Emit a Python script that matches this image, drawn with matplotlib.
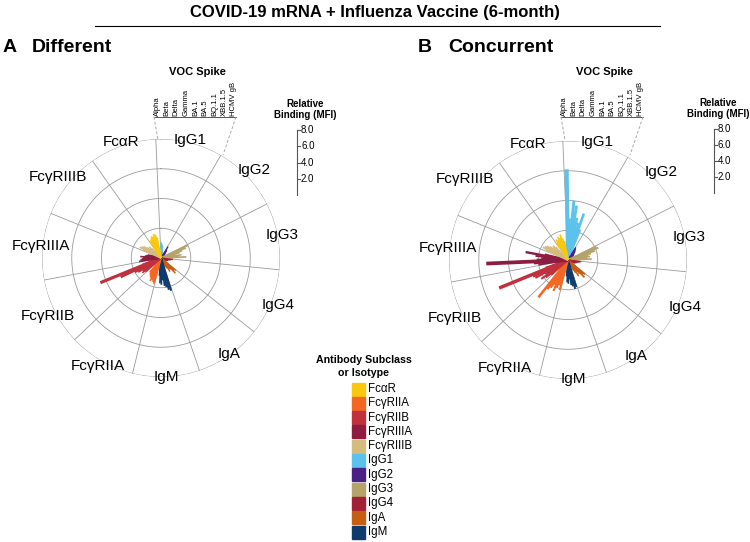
import numpy as np
import matplotlib
matplotlib.use("Agg")
import matplotlib.pyplot as plt
from matplotlib.lines import Line2D
from matplotlib.patches import Rectangle

plt.rcParams['font.family'] = ['Liberation Sans', 'DejaVu Sans']

# ---------------------------
# Data
# ---------------------------
antigens = ["Alpha", "Beta", "Delta", "Gamma", "BA.1", "BA.5", "BQ.1.1", "XBB.1.5", "HCMV gB"]

# clockwise order around the circle, starting at the top
features = ["IgG1", "IgG2", "IgG3", "IgG4", "IgA", "IgM",
            "FcγRIIA", "FcγRIIB", "FcγRIIIA", "FcγRIIIB", "FcαR"]

colors = {
    "FcαR": "#F9C80E",
    "FcγRIIA": "#F26722",
    "FcγRIIB": "#C0303D",
    "FcγRIIIA": "#8C1D40",
    "FcγRIIIB": "#D4BC7E",
    "IgG1": "#5BC2EC",
    "IgG2": "#4B2084",
    "IgG3": "#B5A36A",
    "IgG4": "#A31F36",
    "IgA": "#C65D12",
    "IgM": "#0E3B6B",
}
legend_order = ["FcαR", "FcγRIIA", "FcγRIIB", "FcγRIIIA", "FcγRIIIB",
                "IgG1", "IgG2", "IgG3", "IgG4", "IgA", "IgM"]

# relative binding (MFI), one list of 9 antigens per feature
different = {
    "IgG1":     [1.1, 1.0, 0.9, 0.8, 0.5, 0.4, 0.3, 0.3, 0.2],
    "IgG2":     [0.9, 0.7, 0.6, 0.5, 0.4, 0.3, 0.3, 0.3, 0.2],
    "IgG3":     [2.0, 1.8, 1.5, 1.3, 1.0, 1.4, 1.2, 1.7, 0.8],
    "IgG4":     [0.8, 0.7, 0.6, 0.5, 0.5, 0.4, 0.4, 0.4, 0.3],
    "IgA":      [1.3, 1.2, 1.4, 1.0, 0.9, 1.1, 0.8, 0.7, 0.5],
    "IgM":      [2.3, 2.2, 2.0, 1.9, 1.5, 1.8, 1.7, 1.2, 0.6],
    "FcγRIIA":  [1.8, 1.7, 1.6, 1.7, 1.5, 1.4, 1.3, 1.2, 0.6],
    "FcγRIIB":  [1.4, 1.6, 1.5, 1.8, 2.0, 3.0, 4.4, 1.3, 0.8],
    "FcγRIIIA": [1.5, 1.4, 1.3, 1.2, 1.4, 1.1, 1.0, 0.9, 0.6],
    "FcγRIIIB": [1.3, 1.6, 1.5, 1.4, 1.2, 1.0, 1.1, 0.9, 0.6],
    "FcαR":     [1.3, 1.4, 1.5, 1.6, 1.5, 1.7, 1.6, 1.4, 0.7],
}
concurrent = {
    "IgG1":     [6.1, 2.8, 4.0, 3.7, 2.9, 2.6, 3.3, 2.2, 0.4],
    "IgG2":     [1.0, 0.9, 0.8, 0.7, 0.6, 0.5, 0.5, 0.4, 0.3],
    "IgG3":     [2.1, 2.2, 1.9, 1.6, 1.4, 1.5, 1.3, 1.6, 0.7],
    "IgG4":     [0.9, 0.8, 0.7, 0.6, 0.6, 0.5, 0.5, 0.4, 0.3],
    "IgA":      [1.5, 1.4, 1.6, 1.2, 1.0, 1.3, 1.0, 0.8, 0.5],
    "IgM":      [1.9, 2.0, 1.8, 1.7, 1.3, 1.6, 1.5, 1.1, 0.5],
    "FcγRIIA":  [2.1, 1.8, 2.0, 2.3, 1.9, 2.2, 2.4, 3.2, 0.6],
    "FcγRIIB":  [1.5, 1.9, 2.2, 1.8, 2.5, 2.6, 5.0, 1.6, 0.8],
    "FcγRIIIA": [2.0, 2.3, 5.5, 2.1, 1.8, 2.2, 2.9, 1.6, 0.7],
    "FcγRIIIB": [1.6, 1.9, 1.8, 1.7, 1.5, 1.3, 1.4, 1.2, 0.6],
    "FcαR":     [1.4, 1.6, 1.5, 1.7, 1.6, 1.8, 1.5, 1.3, 0.6],
}

rings = [2, 4, 6, 8]
label_r = [8.2, 8.6, 8.27, 8.47, 7.93, 8.0, 8.4, 8.53, 8.13, 8.8, 8.27]

# ---------------------------
# Figure helpers (pixel coords of a 750x542 canvas)
# ---------------------------
W, H = 750, 542
fig = plt.figure(figsize=(7.5, 5.42), dpi=100)


def fx(x):
    return x / W


def fy(y):
    return 1 - y / H


def fline(xs, ys, **kw):
    fig.add_artist(Line2D([fx(x) for x in xs], [fy(y) for y in ys],
                          transform=fig.transFigure, **kw))


n_feat = len(features)
sector = 2 * np.pi / n_feat
slot = sector / 10
offset = np.deg2rad(-2.5)
grid_col = "#9a9a9a"


def radial_plot(cx, cy, data):
    R = 119
    ax = fig.add_axes([fx(cx - R), fy(cy + R), 2 * R / W, 2 * R / H], projection="polar")
    ax.set_theta_zero_location("N")
    ax.set_theta_direction(-1)
    ax.set_ylim(0, 8)
    ax.set_xticks([])
    ax.set_yticks([])
    ax.grid(False)
    ax.spines["polar"].set_visible(False)
    ax.patch.set_alpha(0)

    th = np.linspace(0, 2 * np.pi, 400)
    for r in rings:
        ax.plot(th, np.full_like(th, r), color=grid_col, lw=0.6, zorder=1)
    for i in range(n_feat):
        a = offset + i * sector
        ax.plot([a, a], [0, 8], color=grid_col, lw=0.6, zorder=1)

    # bars drawn as radial strokes
    for i, f in enumerate(features):
        start = offset + i * sector
        for j, v in enumerate(data[f]):
            t = start + (j + 0.5) * slot
            ax.plot([t, t], [0, v], color=colors[f], lw=0.6 + 0.38 * v,
                    solid_capstyle="butt", zorder=3)
        mid = start + sector / 2
        ax.text(mid, label_r[i], f, ha="center", va="center", fontsize=11,
                clip_on=False, zorder=4)
    return ax


def voc_labels(x0):
    # antigen labels above the IgG1 sector
    xs = x0 + np.arange(len(antigens)) * 9.6
    for x, name in zip(xs, antigens):
        fig.text(fx(x), fy(116), name, rotation=90, ha="center", va="bottom", fontsize=5.5)
    fig.text(fx(x0 + 40), fy(72), "VOC Spike", ha="center", va="center",
             fontsize=8, fontweight="bold")
    fline([x0 - 3, x0 + 79], [117, 117], color="#555555", lw=0.7)
    fline([x0 - 3, x0 + 1], [117, 140], color="#aaaaaa", lw=0.7, ls=(0, (3, 2)))
    fline([x0 + 79, x0 + 66], [117, 155], color="#aaaaaa", lw=0.7, ls=(0, (3, 2)))


def scale_bar(x, ytop, step, xtext):
    fig.text(fx(xtext), fy(ytop - 26), "Relative", ha="center", va="center",
             fontsize=7, fontweight="bold")
    fig.text(fx(xtext), fy(ytop - 15), "Binding (MFI)", ha="center", va="center",
             fontsize=7, fontweight="bold")
    fline([x, x], [ytop, ytop + 4 * step], color="#555555", lw=0.8)
    for k, v in enumerate([8.0, 6.0, 4.0, 2.0]):
        y = ytop + k * step
        fline([x, x + 3], [y, y], color="#555555", lw=0.8)
        fig.text(fx(x + 4), fy(y), f"{v:.1f}", ha="left", va="center", fontsize=7)


# ---------------------------
# Title and panels
# ---------------------------
fig.text(0.5, fy(12), "COVID-19 mRNA + Influenza Vaccine (6-month)", ha="center",
         va="center", fontsize=12, fontweight="bold")
fline([95, 660], [26, 26], color="black", lw=0.8)

fig.text(fx(3), fy(47), "A", ha="left", va="center", fontsize=14, fontweight="bold")
fig.text(fx(32), fy(47), "Different", ha="left", va="center", fontsize=14, fontweight="bold")
fig.text(fx(418), fy(48), "B", ha="left", va="center", fontsize=14, fontweight="bold")
fig.text(fx(448), fy(48), "Concurrent", ha="left", va="center", fontsize=14, fontweight="bold")

radial_plot(161, 258, different)
radial_plot(568, 260, concurrent)

voc_labels(157)
voc_labels(564)
scale_bar(297, 130, 16.3, 305)
scale_bar(714, 129, 16, 718)

# ---------------------------
# Legend
# ---------------------------
fig.text(fx(364), fy(360), "Antibody Subclass", ha="center", va="center",
         fontsize=7.7, fontweight="bold")
fig.text(fx(364), fy(373), "or Isotype", ha="center", va="center",
         fontsize=7.7, fontweight="bold")
for k, f in enumerate(legend_order):
    yc = 389 + k * 14.3
    fig.add_artist(Rectangle((fx(352), fy(yc + 6.5)), 13 / W, 13 / H,
                             transform=fig.transFigure, color=colors[f]))
    fig.text(fx(368), fy(yc), f, ha="left", va="center", fontsize=8.3)

fig.savefig("out.png", dpi=100)
